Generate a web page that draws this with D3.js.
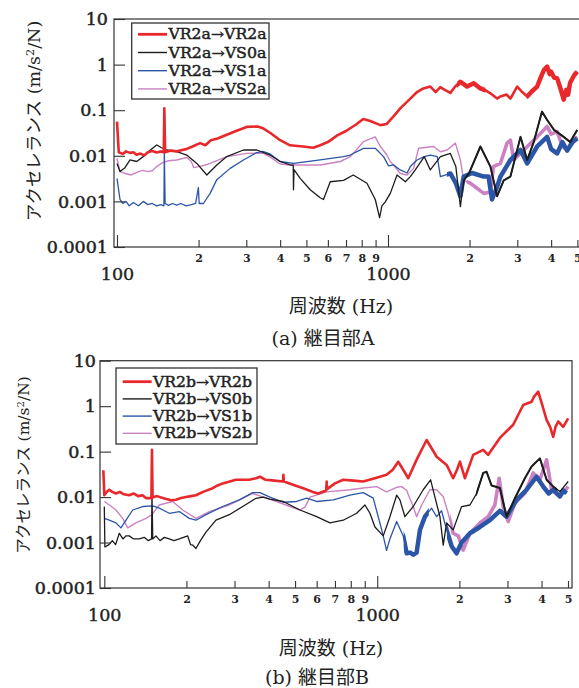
<!DOCTYPE html>
<html>
<head>
<meta charset="utf-8">
<script src="https://cdn.jsdelivr.net/npm/d3@7/dist/d3.min.js"></script>
<style>
  body { margin: 0; background: #fff; }
  svg { display: block; }
  .tick line { stroke: #333; stroke-width: 1.1; }
</style>
</head>
<body>
<svg id="chart" width="579" height="688"></svg>
<script>
// ---------- shared axis data ----------
const yTicks = [0.0001, 0.001, 0.01, 0.1, 1, 10];
const yTickLabels = ["0.0001", "0.001", "0.01", "0.1", "1", "10"];
const xMajorTicks = [100, 1000];
const xMinorTicks = [200, 300, 400, 500, 600, 700, 800, 900, 2000, 3000, 4000, 5000];
const xTitle = "周波数";
const xUnit = " (Hz)";
const yTitleKana = "アクセレランス";
const seriesColors = ["#e8282b", "#1c1c1c", "#2b56a8", "#cc82c2"];

// ---------- 継目部A : [frequency Hz, accelerance m/s²/N] ----------
const legendA = ["VR2a→VR2a", "VR2a→VS0a", "VR2a→VS1a", "VR2a→VS2a"];
const captionA = "(a) 継目部A";

const accA_VR2a = [
  [100,0.056],[101.5,0.012],[105,0.011],[108,0.0125],[111.7,0.0116],[115,0.012],[118,0.0105],
  [122,0.0112],[126,0.0102],[130,0.012],[135,0.0128],[140,0.0118],[145,0.0125],[148.8,0.012],
  [149.5,0.11],[150.5,0.012],[158,0.013],[166,0.0125],[171,0.013],[180,0.014],[190,0.016],
  [202.6,0.019],[212,0.017],[222,0.022],[235,0.024],[254,0.029],[275,0.035],[301,0.043],
  [330,0.044],[346,0.04],[367,0.032],[400,0.022],[435,0.017],[486,0.016],[530,0.015],
  [562,0.017],[600,0.02],[650,0.028],[700,0.035],[760,0.048],[811,0.064],[860,0.058],
  [937,0.047],[990,0.05],[1046,0.072],[1110,0.11],[1209,0.18],[1280,0.25],[1350,0.30],
  [1433,0.33],[1500,0.25],[1560,0.32],[1620,0.28],[1699,0.24],[1770,0.33],[1850,0.42],
  [1960,0.33],[2072,0.39],[2193,0.30],[2300,0.27],[2388,0.235],[2527,0.18],[2600,0.2],
  [2740,0.22],[2830,0.18],[2997,0.33],[3130,0.25],[3263,0.2],[3400,0.26],[3552,0.33],
  [3650,0.5],[3760,0.76],[3867,0.9],[3950,0.62],[4000,0.7],[4100,0.52],[4211,0.5],
  [4330,0.3],[4450,0.17],[4550,0.28],[4620,0.22],[4700,0.4],[4870,0.59],[4992,0.7]
];
const accA_VS0a = [
  [100,0.0068],[102.6,0.0045],[107,0.0055],[111.7,0.0081],[118.2,0.0075],[125,0.0096],
  [132,0.013],[140.2,0.0173],[146,0.015],[152.6,0.0134],[166.2,0.0123],[180.9,0.0104],
  [197,0.0068],[214.5,0.0038],[233.5,0.0063],[254.2,0.0096],[292.8,0.0134],[328.2,0.0134],
  [367.4,0.0104],[400,0.0075],[435.5,0.0063],[447,0.0062],[448,0.0018],[450,0.005],
  [474.3,0.0032],[516.4,0.0018],[562.3,0.0012],[578,0.0011],[612.2,0.0027],[685.5,0.0029],
  [744.5,0.0038],[836.4,0.0025],[897.6,0.0011],[931,0.00044],[950,0.0008],[977.3,0.00098],
  [1019.8,0.0015],[1080,0.0038],[1158.6,0.0027],[1209,0.0035],[1261,0.0049],[1361,0.0096],
  [1433,0.0049],[1561,0.0096],[1699,0.0113],[1780,0.0058],[1850,0.00077],[1902,0.0029],
  [1990,0.0041],[2193,0.016],[2388,0.0058],[2527,0.0013],[2674,0.0029],[2830,0.0035],
  [3083,0.026],[3263,0.0081],[3450,0.02],[3700,0.093],[3867,0.061],[4100,0.037],
  [4450,0.026],[4700,0.02],[4992,0.037]
];
const accA_VS1a = [
  [100,0.0032],[102.6,0.0011],[105,0.0009],[108,0.001],[111,0.0008],[115,0.00095],[120,0.0008],
  [125,0.001],[130,0.00085],[135,0.0009],[140,0.0008],[145,0.00085],[149,0.0008],[149.5,0.0123],
  [150.5,0.0009],[155,0.00082],[160,0.0009],[166.2,0.00083],[172,0.0009],[180,0.0008],
  [188,0.00085],[195,0.0009],[199.7,0.002],[201,0.0009],[208.4,0.0009],[220.6,0.0015],
  [233.5,0.003],[261.5,0.0053],[292.8,0.0081],[328.2,0.0118],[345,0.0125],[367,0.011],
  [400,0.0075],[448,0.0068],[562,0.0081],[685,0.0096],[725.8,0.0104],[812,0.0146],
  [897.6,0.0146],[963,0.0096],[1005,0.006],[1049,0.0063],[1110,0.0049],[1175.6,0.0042],
  [1209,0.0058],[1280,0.0081],[1361,0.0096],[1433,0.0104],[1520,0.0096],[1561,0.0035],
  [1699,0.0041],[1780,0.0025],[1850,0.0013],[1902,0.0035],[2044,0.0042],[2256,0.0035],
  [2350,0.0035],[2420,0.0011],[2527,0.0021],[2600,0.0035],[2830,0.0081],[3083,0.0134],
  [3263,0.0068],[3552,0.016],[3867,0.026],[4000,0.014],[4211,0.0113],[4400,0.02],
  [4585,0.013],[4800,0.02],[4992,0.024]
];
const accA_VS2a = [
  [100,0.0088],[102.6,0.0045],[107,0.0041],[113,0.0038],[120,0.0045],[125,0.0048],[130,0.0045],
  [135,0.0047],[140,0.0058],[148,0.0072],[155,0.0078],[166,0.0081],[181,0.0092],[188,0.0075],
  [192,0.0055],[200,0.0058],[210,0.0062],[220.6,0.0068],[254,0.0096],[301,0.0113],
  [346,0.0115],[367,0.0095],[400,0.0066],[435,0.0063],[474,0.0063],[562,0.0063],
  [667,0.0075],[726,0.0096],[812,0.0204],[897,0.026],[937,0.016],[991,0.0104],
  [1020,0.0075],[1049,0.0063],[1110,0.0041],[1176,0.0038],[1243,0.0053],[1297,0.0146],
  [1474,0.016],[1561,0.0123],[1652,0.0134],[1773,0.019],[1850,0.0081],[1902,0.0029],
  [2014,0.0025],[2256,0.0015],[2388,0.0016],[2449,0.0058],[2599,0.0068],[2750,0.019],
  [2830,0.022],[2911,0.0081],[3170,0.0134],[3552,0.026],[3867,0.044],[4000,0.03],
  [4211,0.034],[4400,0.016],[4585,0.0134],[4800,0.022],[4992,0.026]
];
// frequency spans where a trace is a dense band of fluctuations
const denseA_VR2a = [[1800, 2100], [3250, 5000]];
const denseA_VS0a = [[1900, 5000]];
const denseA_VS1a = [[1650, 5000]];
const denseA_VS2a = [[1950, 5000]];

// ---------- 継目部B ----------
const legendB = ["VR2b→VR2b", "VR2b→VS0b", "VR2b→VS1b", "VR2b→VS2b"];
const captionB = "(b) 継目部B";

const accB_VR2b = [
  [99.2,0.039],[100,0.011],[102,0.013],[104.3,0.0145],[107,0.013],[110.4,0.012],[114,0.013],
  [118,0.0115],[123.5,0.011],[128,0.012],[133,0.0105],[138,0.011],[142.1,0.0095],[148.8,0.0095],
  [149.5,0.11],[150.3,0.0098],[156,0.0105],[163.6,0.0095],[170,0.009],[176,0.0085],[183,0.0087],
  [191,0.0095],[199.2,0.010],[208,0.0105],[216.7,0.011],[230,0.013],[249.5,0.0157],[260,0.018],
  [271.5,0.020],[303.7,0.024],[339.8,0.024],[359.6,0.026],[372,0.028],[390,0.024],[420,0.023],
  [452,0.022],[453,0.031],[455,0.022],[500,0.018],[535.8,0.0157],[580,0.013],[608,0.012],
  [650,0.014],[652.8,0.022],[655,0.015],[700,0.02],[750.6,0.024],[820,0.023],[888.8,0.022],
  [980,0.026],[1082,0.031],[1140,0.04],[1194,0.06],[1245,0.04],[1299,0.026],[1400,0.07],
  [1517,0.18],[1580,0.12],[1651,0.077],[1796,0.051],[1898,0.026],[1960,0.04],[2009,0.06],
  [2095,0.026],[2247,0.085],[2445,0.109],[2550,0.085],[2815,0.2],[3149,0.39],[3426,1.06],
  [3678,1.25],[3750,1.6],[3889,2.08],[4000,1.2],[4174,0.5],[4300,0.35],[4413,0.21],
  [4500,0.35],[4603,0.46],[4801,0.35],[5008,0.54]
];
const accB_VS0b = [
  [100,0.0062],[100.5,0.0008],[104,0.0009],[107,0.0011],[110,0.0009],[113.5,0.0016],[117,0.0012],
  [120,0.0014],[123.5,0.0014],[128,0.0012],[134.4,0.0012],[140,0.0013],[145,0.0011],[149,0.0012],
  [149.5,0.012],[150.5,0.0012],[154.6,0.0014],[160,0.0011],[166,0.0013],[173,0.0012],[180,0.0011],
  [188.3,0.0012],[202.1,0.0014],[207,0.0009],[210.8,0.00088],[216.7,0.00074],[225,0.0011],
  [235.8,0.0017],[256.5,0.0031],[287,0.0041],[321.4,0.0062],[359.6,0.0094],[382.4,0.010],
  [404,0.009],[452.5,0.008],[521,0.0052],[599.8,0.0037],[671.1,0.0027],[750.6,0.0031],
  [840.6,0.0044],[901.6,0.0067],[940.4,0.0044],[980.8,0.0022],[1052,0.0014],[1113,0.0037],
  [1178,0.011],[1211,0.0087],[1263,0.0037],[1355,0.0062],[1474,0.0145],[1569,0.024],
  [1627,0.010],[1697,0.0037],[1745,0.00088],[1796,0.0027],[1898,0.0019],[2038,0.0062],
  [2186,0.0067],[2312,0.012],[2445,0.034],[2516,0.036],[2624,0.018],[2815,0.0158],
  [2978,0.0037],[3194,0.0094],[3475,0.026],[3678,0.047],[3945,0.071],[4174,0.024],
  [4413,0.017],[4669,0.0132],[5008,0.022]
];
const accB_VS1b = [
  [100,0.0034],[104.3,0.0031],[110.4,0.0027],[115.1,0.0021],[120.1,0.0031],[127.1,0.0052],
  [138.3,0.0062],[150.4,0.0064],[159,0.0057],[173,0.0044],[188.3,0.0048],[204.8,0.0034],
  [216.7,0.0031],[235.8,0.0041],[271.5,0.0062],[312.3,0.0087],[349.7,0.0125],[371.9,0.0125],
  [404.6,0.010],[452.5,0.0077],[506.7,0.008],[551.3,0.0095],[599.8,0.008],[690,0.0087],
  [794.3,0.011],[888.8,0.0125],[966.7,0.0095],[1008.5,0.0037],[1052,0.0014],[1082,0.00067],
  [1113,0.0012],[1178,0.0029],[1245,0.0014],[1282,0.00058],[1320,0.0006],[1355,0.00054],
  [1394,0.0006],[1434,0.0019],[1495,0.0037],[1582,0.0057],[1651,0.0037],[1721,0.005],
  [1796,0.0019],[1873,0.00083],[1953,0.00058],[2038,0.001],[2186,0.0016],[2378,0.0022],
  [2587,0.0031],[2815,0.005],[2978,0.0037],[3240,0.0087],[3526,0.0145],[3836,0.028],
  [4057,0.017],[4250,0.012],[4413,0.0145],[4669,0.0103],[4800,0.014],[4941,0.0122]
];
const accB_VS2b = [
  [100,0.008],[104.3,0.0067],[110.4,0.0052],[116.8,0.0034],[121.8,0.0021],[130.6,0.0027],
  [142.1,0.0034],[149.5,0.0041],[159,0.0067],[178,0.008],[193.8,0.0052],[216.7,0.0034],
  [242.5,0.0048],[287,0.0067],[321.4,0.0094],[349.7,0.012],[382.4,0.010],[428,0.008],
  [478.7,0.0062],[521,0.0052],[543.5,0.006],[566.9,0.010],[652.8,0.013],[794.3,0.0145],
  [888.8,0.0158],[994.9,0.017],[1082,0.013],[1178,0.0164],[1230,0.017],[1282,0.014],
  [1320,0.009],[1355,0.0062],[1394,0.0037],[1454,0.0067],[1560,0.0145],[1651,0.0145],
  [1745,0.0103],[1820,0.0044],[1898,0.0016],[1981,0.0014],[2065,0.00068],[2186,0.0016],
  [2378,0.0027],[2550,0.0037],[2698,0.0067],[2798,0.026],[2894,0.0062],[3019,0.0029],
  [3194,0.0074],[3475,0.012],[3728,0.034],[3945,0.024],[4174,0.066],[4354,0.0145],
  [4669,0.0103],[5008,0.017]
];
const denseB_VR2b = [];
const denseB_VS0b = [[2300, 4200]];
const denseB_VS1b = [[1250, 1420], [1800, 5000]];
const denseB_VS2b = [[1850, 5000]];

// ---------- drawing ----------
const svg = d3.select("#chart");
const serif = "'DejaVu Serif', 'Liberation Serif', serif";
const cjk = "'Noto Sans CJK JP', 'Noto Sans', sans-serif";
let clipId = 0;

// heavier serif glyphs, like the printed figure's typeface
function heavy(sel, w) {
  return sel.attr("stroke", "#222").attr("stroke-width", w).attr("paint-order", "stroke");
}

function drawPanel(p) {
  const x = d3.scaleLog().domain([100, 5000]).range([p.x100, p.x5000]);
  const y = d3.scaleLog().domain([0.0001, 10]).range([p.bottom, p.top]);
  const g = svg.append("g");

  const frameId = "frame" + (clipId++);
  svg.append("clipPath").attr("id", frameId)
    .append("rect").attr("x", p.left).attr("y", p.top)
    .attr("width", p.right - p.left).attr("height", p.bottom - p.top);

  const line = d3.line().x(d => x(d[0])).y(d => y(d[1]));
  const plot = g.append("g").attr("clip-path", `url(#${frameId})`);

  // draw back-to-front: pink, blue, black, red
  [3, 2, 1, 0].forEach(i => {
    const s = p.series[i];
    plot.append("path").datum(s).attr("d", line)
      .attr("fill", "none").attr("stroke", seriesColors[i])
      .attr("stroke-width", p.widths[i]).attr("stroke-linejoin", "round");
    p.dense[i].forEach(r => {
      const id = "band" + (clipId++);
      svg.append("clipPath").attr("id", id)
        .append("rect").attr("x", x(r[0])).attr("y", p.top)
        .attr("width", x(r[1]) - x(r[0]) + 10).attr("height", p.bottom - p.top);
      plot.append("g").attr("clip-path", `url(#${id})`)
        .append("path").datum(s).attr("d", line)
        .attr("fill", "none").attr("stroke", seriesColors[i])
        .attr("stroke-width", p.denseWidths[i]).attr("stroke-linejoin", "round");
    });
  });

  // frame
  g.append("rect").attr("x", p.left).attr("y", p.top)
    .attr("width", p.right - p.left).attr("height", p.bottom - p.top)
    .attr("fill", "none").attr("stroke", "#333").attr("stroke-width", 1.2);

  // y axis (inward ticks)
  const ya = g.append("g").attr("transform", `translate(${p.left},0)`)
    .call(d3.axisLeft(y).tickValues(yTicks).tickSize(-11).tickPadding(p.yPad)
      .tickFormat((d, i) => yTickLabels[i]));
  ya.select(".domain").remove();
  heavy(ya.selectAll("text").attr("font-family", serif).attr("font-size", 17.5).attr("fill", "#222"), 0.5);

  // x axis: decades
  const xa = g.append("g").attr("transform", `translate(0,${p.bottom})`)
    .call(d3.axisBottom(x).tickValues(xMajorTicks).tickSize(-12).tickPadding(21)
      .tickFormat(d3.format("d")));
  xa.select(".domain").remove();
  heavy(xa.selectAll("text").attr("font-family", serif).attr("font-size", 17.5).attr("fill", "#222"), 0.4);

  // x axis: in-decade ticks labelled by leading digit
  const xm = g.append("g").attr("transform", `translate(0,${p.bottom})`)
    .call(d3.axisBottom(x).tickValues(xMinorTicks).tickSize(-7).tickPadding(7)
      .tickFormat(d => String(d).charAt(0)));
  xm.select(".domain").remove();
  xm.selectAll("text").attr("font-family", serif).attr("font-size", 11)
    .attr("font-weight", "bold").attr("fill", "#222");

  // y title
  const yt = g.append("text")
    .attr("transform", `translate(${p.yTitleX},${p.yTitleY}) rotate(-90)`)
    .attr("text-anchor", "middle").attr("dy", "0.35em")
    .attr("font-size", p.yTitleSize).attr("fill", "#222");
  yt.append("tspan").attr("font-family", cjk).text(yTitleKana);
  yt.append("tspan").attr("font-family", serif).text(" (m/s");
  yt.append("tspan").attr("font-family", serif).attr("font-size", p.yTitleSize * 0.65)
    .attr("dy", "-0.5em").text("2");
  yt.append("tspan").attr("font-family", serif).attr("dy", "0.33em").text("/N)");

  // x title
  const xt = g.append("text").attr("x", p.xTitleX).attr("y", p.xTitleY)
    .attr("text-anchor", "middle").attr("dy", "0.35em").attr("font-size", 19).attr("fill", "#222");
  xt.append("tspan").attr("font-family", cjk).text(xTitle);
  xt.append("tspan").attr("font-family", serif).text(xUnit);

  // caption
  const cap = g.append("text").attr("x", p.capX).attr("y", p.capY)
    .attr("text-anchor", "middle").attr("dy", "0.35em").attr("font-size", 19).attr("fill", "#222");
  const m = p.caption.match(/^(\(.\)) (.*)(.)$/);
  cap.append("tspan").attr("font-family", serif).text(m[1] + " ");
  cap.append("tspan").attr("font-family", cjk).text(m[2]);
  cap.append("tspan").attr("font-family", serif).text(m[3]);

  // legend
  const L = p.legend;
  g.append("rect").attr("x", L.x).attr("y", L.y).attr("width", L.w).attr("height", L.h)
    .attr("fill", "#fff").attr("stroke", "#333").attr("stroke-width", 1.3);
  p.labels.forEach((lab, i) => {
    const cy = L.row0 + i * L.dy;
    g.append("line").attr("x1", L.s1).attr("x2", L.s2).attr("y1", cy).attr("y2", cy)
      .attr("stroke", seriesColors[i]).attr("stroke-width", i === 0 ? 2.8 : 1.4);
    heavy(g.append("text").attr("x", L.tx).attr("y", cy).attr("dy", "0.36em")
      .attr("font-family", serif).attr("font-size", 14).attr("fill", "#222")
      .attr("textLength", L.tw).attr("lengthAdjust", "spacingAndGlyphs").text(lab), 0.45);
  });
}

drawPanel({
  left: 114, right: 581, top: 19, bottom: 247, x100: 117, x5000: 577.4, yPad: 6,
  series: [accA_VR2a, accA_VS0a, accA_VS1a, accA_VS2a],
  dense: [denseA_VR2a, denseA_VS0a, denseA_VS1a, denseA_VS2a],
  widths: [2.6, 1.3, 1.3, 1.4], denseWidths: [4.5, 2.0, 4.5, 3.6],
  labels: legendA, caption: captionA,
  yTitleX: 33.5, yTitleY: 121, yTitleSize: 17.5,
  xTitleX: 341, xTitleY: 306, capX: 323, capY: 338,
  legend: { x: 131.7, y: 23, w: 137.3, h: 76, row0: 34.3, dy: 18.2,
            s1: 138, s2: 167, tx: 168.5, tw: 98 }
});

drawPanel({
  left: 100, right: 572, top: 360.7, bottom: 588, x100: 104.3, x5000: 568, yPad: 4,
  series: [accB_VR2b, accB_VS0b, accB_VS1b, accB_VS2b],
  dense: [denseB_VR2b, denseB_VS0b, denseB_VS1b, denseB_VS2b],
  widths: [2.6, 1.3, 1.3, 1.4], denseWidths: [2.6, 2.0, 4.5, 3.6],
  labels: legendB, caption: captionB,
  yTitleX: 23.5, yTitleY: 465, yTitleSize: 15.5,
  xTitleX: 331, xTitleY: 648, capX: 317, capY: 677,
  legend: { x: 116, y: 368, w: 141, h: 76, row0: 381.7, dy: 17.2,
            s1: 122.7, s2: 151.7, tx: 153, tw: 99 }
});
</script>
</body>
</html>
